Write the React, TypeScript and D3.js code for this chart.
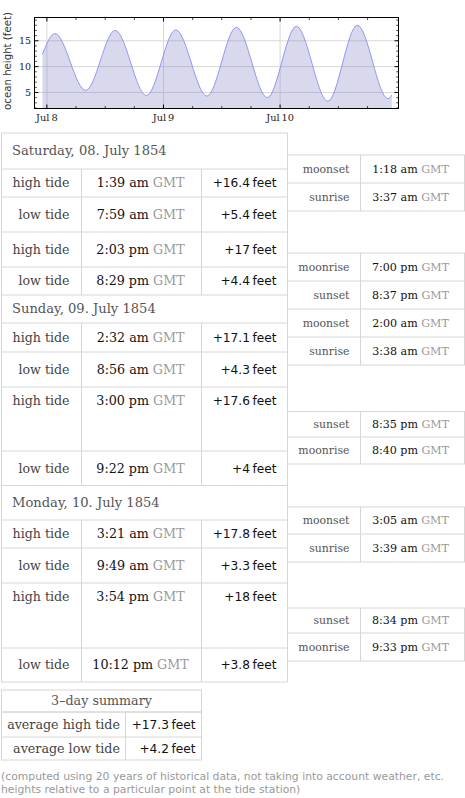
import React from "react";
import * as d3 from "d3";

const DAY_TITLES = ["Saturday, 08. July 1854", "Sunday, 09. July 1854", "Monday, 10. July 1854"];
const TIDE_KINDS = ["high tide", "low tide", "high tide", "low tide"];
const TIDE_TIMES = [
  ["1:39 am", "7:59 am", "2:03 pm", "8:29 pm"],
  ["2:32 am", "8:56 am", "3:00 pm", "9:22 pm"],
  ["3:21 am", "9:49 am", "3:54 pm", "10:12 pm"],
];
const TIDE_HEIGHTS = [
  [16.4, 5.4, 17, 4.4],
  [17.1, 4.3, 17.6, 4],
  [17.8, 3.3, 18, 3.8],
];
// first and last sample of the plotted curve
const CURVE_START = { day: -1, time: "11:05 pm", height: 12.4 };
const CURVE_END = { day: 2, time: "11:00 pm", height: 4.5 };

const ASTRO_EVENTS = [
  "moonset", "sunrise",
  "moonrise", "sunset", "moonset", "sunrise",
  "sunset", "moonrise",
  "moonset", "sunrise",
  "sunset", "moonrise",
];
const ASTRO_TIMES = [
  "1:18 am", "3:37 am",
  "7:00 pm", "8:37 pm", "2:00 am", "3:38 am",
  "8:35 pm", "8:40 pm",
  "3:05 am", "3:39 am",
  "8:34 pm", "9:33 pm",
];

const SUMMARY_TITLE = "3\u2013day summary";
const SUMMARY_LABELS = ["average high tide", "average low tide"];
const SUMMARY_VALUES = [17.3, 4.2];

const Y_TICKS = [5, 10, 15];
const X_TICK_LABELS = ["Jul\u20098", "Jul\u20099", "Jul\u200910"];
const NOTES = [
  "(computed using 20 years of historical data, not taking into account weather, etc.",
  "heights relative to a particular point at the tide station)",
];

// layout
const W = 465;
const H = 798;
const PLOT = { left: 34.5, right: 398.5, top: 17.5, bottom: 108.5 };
const LEFT_COLS = [1.5, 81.5, 201.5, 287.5];
const LEFT_ROWS = [
  [133, 169, 197, 232, 267, 295],
  [295, 323, 352, 387, 451, 485.5],
  [485.5, 520, 548, 583, 648, 682],
];
const RIGHT_COLS = [287.5, 360.5, 464.5];
const RIGHT_GROUPS = [
  [155, 183, 211],
  [253, 281, 309, 337, 365],
  [411.5, 437, 464],
  [507, 534, 562],
  [608, 633, 661],
];
const SUM_COLS = [1.5, 125.5, 201.5];
const SUM_ROWS = [690, 712, 737, 760];

const BORDER = "#d6d6d6";
const SERIF = "'DejaVu Serif', serif";
const SANS = "'DejaVu Sans', sans-serif";

function clockHours(s: string) {
  const [hm, ap] = s.split(" ");
  let [h, m] = hm.split(":").map(Number);
  if (ap === "pm" && h !== 12) h += 12;
  if (ap === "am" && h === 12) h = 0;
  return h + m / 60;
}
function toDate(day: number, time: string) {
  return new Date(Date.UTC(1854, 6, 8 + day) + clockHours(time) * 3600e3);
}
const fmtFeet = (v: number) => "+" + v;

function TimeText({ x, y, t, size }) {
  return (
    <text x={x} y={y} textAnchor="middle" fontFamily={SERIF} fontSize={size}>
      <tspan fill="#111">{t}</tspan>
      <tspan fill="#999">{" GMT"}</tspan>
    </text>
  );
}

function FeetText({ x, y, v }) {
  return (
    <text x={x} y={y} textAnchor="end" fontFamily={SANS} fontSize={12.2} fill="#111">
      {fmtFeet(v) + "\u2009feet"}
    </text>
  );
}

function Chart() {
  const series = [
    { date: toDate(CURVE_START.day, CURVE_START.time), h: CURVE_START.height },
    ...TIDE_TIMES.flatMap((times, d) =>
      times.map((t, i) => ({ date: toDate(d, t), h: TIDE_HEIGHTS[d][i] }))
    ),
    { date: toDate(CURVE_END.day, CURVE_END.time), h: CURVE_END.height },
  ];

  const x = d3
    .scaleUtc()
    .domain([new Date(Date.UTC(1854, 6, 7, 21, 27)), new Date(Date.UTC(1854, 6, 11, 0, 22))])
    .range([PLOT.left, PLOT.right]);
  const y = d3.scaleLinear().domain([1.9, 19.5]).range([PLOT.bottom, PLOT.top]);

  const area = d3
    .area<any>()
    .x((d) => x(d.date))
    .y0(PLOT.bottom)
    .y1((d) => y(d.h))
    .curve(d3.curveMonotoneX);
  const line = d3
    .line<any>()
    .x((d) => x(d.date))
    .y((d) => y(d.h))
    .curve(d3.curveMonotoneX);

  const dayTicks = d3.utcDay.range(new Date(Date.UTC(1854, 6, 8)), new Date(Date.UTC(1854, 6, 11)));
  const hourTicks = d3.utcHour
    .every(6)!
    .range(x.domain()[0], x.domain()[1])
    .filter((d) => d.getUTCHours() !== 0);
  const minorY = d3.range(2, 20).filter((v) => v % 5 !== 0);

  return (
    <g>
      {/* grid */}
      {Y_TICKS.map((v) => (
        <line key={"gy" + v} x1={PLOT.left} x2={PLOT.right} y1={y(v)} y2={y(v)} stroke="#d8d8d8" />
      ))}
      {dayTicks.map((d, i) => (
        <line key={"gx" + i} x1={x(d)} x2={x(d)} y1={PLOT.top} y2={PLOT.bottom} stroke="#d8d8d8" />
      ))}
      <path d={area(series)!} fill="rgb(128,128,200)" fillOpacity={0.3} />
      <path d={line(series)!} fill="none" stroke="#8b8bf2" strokeWidth={0.9} />

      {/* ticks */}
      {Y_TICKS.map((v) => (
        <g key={"ty" + v}>
          <line x1={PLOT.left} x2={PLOT.left + 4} y1={y(v)} y2={y(v)} stroke="#000" />
          <line x1={PLOT.right} x2={PLOT.right - 4} y1={y(v)} y2={y(v)} stroke="#000" />
          <text x={PLOT.left - 3.5} y={y(v) + 3.3} textAnchor="end" fontFamily={SERIF} fontSize={9.5} fill="#222">
            {v}
          </text>
        </g>
      ))}
      {minorY.map((v) => (
        <g key={"my" + v}>
          <line x1={PLOT.left} x2={PLOT.left + 2.3} y1={y(v)} y2={y(v)} stroke="#000" strokeWidth={0.7} />
          <line x1={PLOT.right} x2={PLOT.right - 2.3} y1={y(v)} y2={y(v)} stroke="#000" strokeWidth={0.7} />
        </g>
      ))}
      {dayTicks.map((d, i) => (
        <g key={"tx" + i}>
          <line x1={x(d)} x2={x(d)} y1={PLOT.bottom} y2={PLOT.bottom - 4} stroke="#000" />
          <line x1={x(d)} x2={x(d)} y1={PLOT.top} y2={PLOT.top + 4} stroke="#000" />
          <text x={x(d)} y={120.5} textAnchor="middle" fontFamily={SERIF} fontSize={9.8} fill="#222">
            {X_TICK_LABELS[i]}
          </text>
        </g>
      ))}
      {hourTicks.map((d, i) => (
        <g key={"hx" + i}>
          <line x1={x(d)} x2={x(d)} y1={PLOT.bottom} y2={PLOT.bottom - 2.5} stroke="#000" strokeWidth={0.7} />
          <line x1={x(d)} x2={x(d)} y1={PLOT.top} y2={PLOT.top + 2.5} stroke="#000" strokeWidth={0.7} />
        </g>
      ))}
      <rect
        x={PLOT.left}
        y={PLOT.top}
        width={PLOT.right - PLOT.left}
        height={PLOT.bottom - PLOT.top}
        fill="none"
        stroke="#000"
      />
      <text
        transform={`translate(10.5,${(PLOT.top + PLOT.bottom) / 2 - 2}) rotate(-90)`}
        textAnchor="middle"
        fontFamily={SANS}
        fontSize={10.2}
        fill="#333"
      >
        ocean height (feet)
      </text>
    </g>
  );
}

function TideTable() {
  const [c0, c1, c2, c3] = LEFT_COLS;
  return (
    <g>
      {DAY_TITLES.map((title, d) => {
        const rows = LEFT_ROWS[d];
        return (
          <g key={title}>
            <line x1={c0} x2={c3} y1={rows[0]} y2={rows[0]} stroke={BORDER} />
            <text
              x={c0 + 10.5}
              y={(rows[0] + rows[1]) / 2 + 4.3}
              fontFamily={SERIF}
              fontSize={13.1}
              fill="#555"
            >
              {title}
            </text>
            {TIDE_KINDS.map((kind, i) => {
              const top = rows[i + 1];
              const bot = rows[i + 2];
              const h = bot - top;
              const cy = (h > 40 ? top + 13.5 : top + h / 2) + 4.3;
              return (
                <g key={kind + i}>
                  <line x1={c0} x2={c3} y1={top} y2={top} stroke={BORDER} />
                  <line x1={c1} x2={c1} y1={top} y2={bot} stroke={BORDER} />
                  <line x1={c2} x2={c2} y1={top} y2={bot} stroke={BORDER} />
                  <text x={c1 - 12} y={cy} textAnchor="end" fontFamily={SERIF} fontSize={12.6} fill="#444">
                    {kind}
                  </text>
                  <TimeText x={(c1 + c2) / 2 - 1} y={cy} t={TIDE_TIMES[d][i]} size={12.7} />
                  <FeetText x={c3 - 11} y={cy} v={TIDE_HEIGHTS[d][i]} />
                </g>
              );
            })}
          </g>
        );
      })}
      <line x1={c0} x2={c3} y1={682} y2={682} stroke={BORDER} />
      <line x1={c0} x2={c0} y1={133} y2={682} stroke={BORDER} />
      <line x1={c3} x2={c3} y1={133} y2={682} stroke={BORDER} />
    </g>
  );
}

function AstroTable() {
  const [c0, c1, c2] = RIGHT_COLS;
  let k = 0;
  return (
    <g>
      {RIGHT_GROUPS.map((edges, g) => (
        <g key={"grp" + g}>
          <rect x={c0} y={edges[0]} width={c2 - c0} height={edges[edges.length - 1] - edges[0]} fill="none" stroke={BORDER} />
          <line x1={c1} x2={c1} y1={edges[0]} y2={edges[edges.length - 1]} stroke={BORDER} />
          {edges.slice(0, -1).map((top, i) => {
            const idx = k++;
            const cy = (top + edges[i + 1]) / 2 + 3.8;
            return (
              <g key={"r" + idx}>
                {i > 0 && <line x1={c0} x2={c2} y1={top} y2={top} stroke={BORDER} />}
                <text x={c1 - 11} y={cy} textAnchor="end" fontFamily={SERIF} fontSize={10.9} fill="#555">
                  {ASTRO_EVENTS[idx]}
                </text>
                <TimeText x={(c1 + c2) / 2 - 2} y={cy} t={ASTRO_TIMES[idx]} size={11.1} />
              </g>
            );
          })}
        </g>
      ))}
    </g>
  );
}

function SummaryTable() {
  const [c0, c1, c2] = SUM_COLS;
  const [r0, r1] = SUM_ROWS;
  return (
    <g>
      <rect x={c0} y={r0} width={c2 - c0} height={SUM_ROWS[3] - r0} fill="none" stroke={BORDER} />
      <line x1={c0} x2={c2} y1={r1} y2={r1} stroke={BORDER} />
      <text x={(c0 + c2) / 2} y={(r0 + r1) / 2 + 4.3} textAnchor="middle" fontFamily={SERIF} fontSize={12.7} fill="#555">
        {SUMMARY_TITLE}
      </text>
      {SUMMARY_LABELS.map((label, i) => {
        const top = SUM_ROWS[i + 1];
        const bot = SUM_ROWS[i + 2];
        const cy = (top + bot) / 2 + 4.3;
        return (
          <g key={label}>
            <line x1={c0} x2={c2} y1={top} y2={top} stroke={BORDER} />
            <line x1={c1} x2={c1} y1={top} y2={bot} stroke={BORDER} />
            <text x={c1 - 5.5} y={cy} textAnchor="end" fontFamily={SERIF} fontSize={12.7} fill="#444">
              {label}
            </text>
            <FeetText x={c2 - 6} y={cy} v={SUMMARY_VALUES[i]} />
          </g>
        );
      })}
    </g>
  );
}

export default function App() {
  return (
    <svg
      width={W}
      height={H}
      viewBox={`0 0 ${W} ${H}`}
      style={{ position: "absolute", left: 0, top: 0, background: "#fff" }}
    >
      <Chart />
      <TideTable />
      <AstroTable />
      <SummaryTable />
      {NOTES.map((n, i) => (
        <text key={i} x={1} y={780 + i * 13} fontFamily={SANS} fontSize={10.8} fill="#999">
          {n}
        </text>
      ))}
    </svg>
  );
}
